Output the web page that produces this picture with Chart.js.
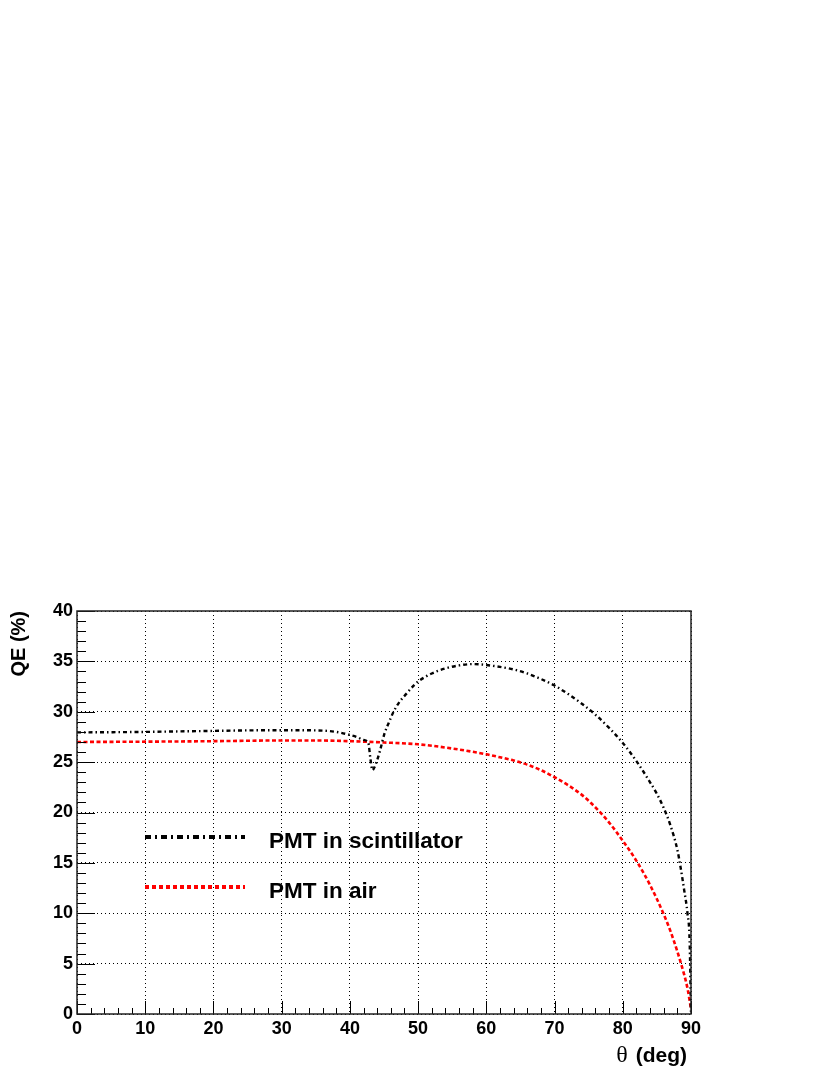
<!DOCTYPE html>
<html>
<head>
<meta charset="utf-8">
<script src="https://cdn.jsdelivr.net/npm/chart.js@4/dist/chart.umd.min.js"></script>
<style>
  html, body { margin: 0; padding: 0; background: #fff; }
  canvas { display: block; }
</style>
</head>
<body>
<canvas id="qe_chart" width="830" height="1075"></canvas>
<script>
// angle (deg) and QE (%)
const thetaScint = [0, 5, 10, 15, 20, 25, 30, 35, 38, 40, 41, 42, 42.7, 43.0, 43.3, 43.6, 44.0, 44.4, 45.1, 45.7, 46.4, 47.2, 48.3, 49.5, 50, 52, 54, 56, 58, 60, 62, 64, 66, 68, 70, 72, 74, 76, 78, 80, 82, 84, 85, 86, 87, 88, 88.5, 89, 89.5, 89.8, 90];
const qeScint = [27.95, 27.97, 28.0, 28.05, 28.1, 28.15, 28.17, 28.15, 28.0, 27.7, 27.5, 27.2, 26.9, 25.4, 24.2, 24.5, 25.2, 26.1, 27.9, 28.9, 30.0, 30.9, 31.8, 32.7, 33.0, 33.8, 34.3, 34.6, 34.73, 34.64, 34.45, 34.2, 33.8, 33.25, 32.6, 31.75, 30.8, 29.7, 28.4, 26.9, 25.1, 23.0, 21.85, 20.45, 18.7, 16.3, 14.45, 12.3, 9.9, 7.2, 0];

const thetaAir = [0, 10, 20, 30, 35, 40, 45, 50, 55, 60, 62, 64, 66, 68, 70, 72, 74, 76, 78, 80, 82, 84, 86, 87, 88, 89, 89.5, 90];
const qeAir = [27.0, 27.03, 27.08, 27.15, 27.15, 27.08, 26.95, 26.77, 26.35, 25.78, 25.48, 25.16, 24.75, 24.2, 23.5, 22.7, 21.75, 20.5, 19.0, 17.2, 15.2, 12.8, 9.9, 8.2, 6.2, 3.9, 2.5, 0.5];

const seriesLabels = ["PMT in scintillator", "PMT in air"];
const xTicks = { min: 0, max: 90, step: 10, minor: 2 };
const yTicks = { min: 0, max: 40, step: 5, minor: 1 };

const toPoints = (xs, ys) => xs.map((x, i) => ({ x: x, y: ys[i] }));

const FONT = "'Liberation Sans', Arial, Helvetica, sans-serif";

// ROOT style inside ticks + frame box
const frameTicks = {
  id: "frameTicks",
  afterDatasetsDraw(chart) {
    const { ctx, chartArea: a, scales } = chart;
    ctx.save();
    ctx.strokeStyle = "#000";
    ctx.lineWidth = 1;
    ctx.beginPath();
    for (let v = yTicks.min; v <= yTicks.max; v += yTicks.minor) {
      const py = Math.round(scales.y.getPixelForValue(v)) + 0.5;
      const len = v % yTicks.step === 0 ? 18 : 9;
      ctx.moveTo(a.left, py);
      ctx.lineTo(a.left + len, py);
    }
    for (let v = xTicks.min; v <= xTicks.max; v += xTicks.minor) {
      const px = Math.round(scales.x.getPixelForValue(v)) + 0.5;
      const len = v % xTicks.step === 0 ? 13 : 6;
      ctx.moveTo(px, a.bottom);
      ctx.lineTo(px, a.bottom - len);
    }
    ctx.stroke();
    ctx.lineWidth = 1.5;
    ctx.strokeStyle = "#222";
    ctx.strokeRect(a.left, a.top, a.right - a.left, a.bottom - a.top);
    ctx.restore();
  },
};

// legend drawn inside the frame, ROOT style
const boxLegend = {
  id: "boxLegend",
  afterDraw(chart) {
    const { ctx, chartArea: a } = chart;
    ctx.save();
    chart.data.datasets.forEach((ds, i) => {
      const y = a.top + 226 + i * 50;
      ctx.beginPath();
      ctx.strokeStyle = ds.borderColor;
      ctx.lineWidth = 4;
      ctx.setLineDash(ds.legendDash);
      ctx.moveTo(a.left + 68, y);
      ctx.lineTo(a.left + 168, y);
      ctx.stroke();
      ctx.setLineDash([]);
      ctx.fillStyle = "#000";
      ctx.font = "bold 22.5px " + FONT;
      ctx.textBaseline = "middle";
      ctx.textAlign = "left";
      ctx.fillText(ds.label, a.left + 192, y + 5);
    });
    ctx.restore();
  },
};

// x title: greek theta in serif, unit in bold sans
const xTitle = {
  id: "xTitle",
  afterDraw(chart) {
    const { ctx, chartArea: a } = chart;
    ctx.save();
    ctx.fillStyle = "#000";
    ctx.textBaseline = "alphabetic";
    ctx.textAlign = "left";
    const unit = " (deg)";
    ctx.font = "bold 21px " + FONT;
    const wUnit = ctx.measureText(unit).width;
    ctx.font = "24px 'Liberation Serif', 'DejaVu Serif', serif";
    const wTheta = ctx.measureText("θ").width;
    const right = a.right - 4;
    const base = a.bottom + 48;
    ctx.fillText("θ", right - wUnit - wTheta - 2, base);
    ctx.font = "bold 21px " + FONT;
    ctx.fillText(unit, right - wUnit, base);
    ctx.restore();
  },
};

const ctx = document.getElementById("qe_chart").getContext("2d");
new Chart(ctx, {
  type: "line",
  data: {
    datasets: [
      {
        label: seriesLabels[0],
        data: toPoints(thetaScint, qeScint),
        borderColor: "#000000",
        borderWidth: 2.4,
        borderDash: [4, 3, 1.5, 3],
        legendDash: [6, 4, 2, 4],
        pointRadius: 0,
        cubicInterpolationMode: "monotone",
        fill: false,
      },
      {
        label: seriesLabels[1],
        data: toPoints(thetaAir, qeAir),
        borderColor: "#ff0000",
        borderWidth: 2.6,
        borderDash: [4, 2.5],
        legendDash: [4, 3],
        pointRadius: 0,
        cubicInterpolationMode: "monotone",
        fill: false,
      },
    ],
  },
  options: {
    responsive: false,
    animation: false,
    layout: { padding: { top: 611, right: 139, left: 0, bottom: 0 } },
    plugins: {
      legend: { display: false },
      tooltip: { enabled: false },
    },
    scales: {
      x: {
        type: "linear",
        min: xTicks.min,
        max: xTicks.max,
        afterFit: (scale) => { scale.height = 61; },
        ticks: {
          stepSize: xTicks.step,
          color: "#000",
          padding: 4,
          maxRotation: 0,
          font: { family: FONT, size: 18, weight: "bold" },
        },
        grid: { color: "#000", lineWidth: 1, drawTicks: false },
        border: { display: false, dash: [1, 3] },
      },
      y: {
        type: "linear",
        min: yTicks.min,
        max: yTicks.max,
        afterFit: (scale) => { scale.width = 77; },
        ticks: {
          stepSize: yTicks.step,
          color: "#000",
          padding: 4,
          font: { family: FONT, size: 18, weight: "bold" },
        },
        grid: { color: "#000", lineWidth: 1, drawTicks: false },
        border: { display: false, dash: [1, 3] },
        title: {
          display: true,
          text: "QE (%)",
          align: "end",
          color: "#000",
          padding: { top: 7, bottom: 0 },
          font: { family: FONT, size: 20, weight: "bold" },
        },
      },
    },
  },
  plugins: [frameTicks, boxLegend, xTitle],
});
</script>
</body>
</html>
